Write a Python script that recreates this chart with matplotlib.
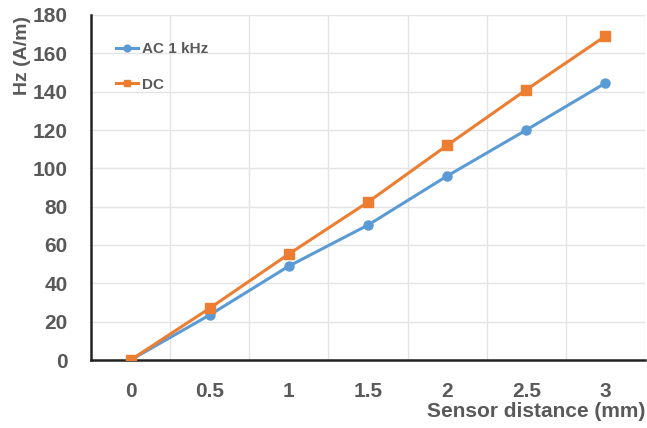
import matplotlib
matplotlib.use("Agg")
import matplotlib.pyplot as plt
from matplotlib import font_manager as fm

names = {f.name for f in fm.fontManager.ttflist}
fam = "Liberation Sans Narrow" if "Liberation Sans Narrow" in names else "Liberation Sans"
plt.rcParams['font.family'] = [fam, 'DejaVu Sans']

categories = ["0", "0.5", "1", "1.5", "2", "2.5", "3"]
ac_1khz = [0, 23.5, 49, 70.4, 96, 120, 144.5]
dc = [0, 27, 55.3, 82.4, 112, 141, 169]
yticks = [0, 20, 40, 60, 80, 100, 120, 140, 160, 180]

txt = "#595959"
fig = plt.figure(figsize=(6.47, 4.28), dpi=100)
ax = fig.add_axes([91/647, 68/428, 554/647, 345/428])
x = list(range(len(categories)))
ax.plot(x, ac_1khz, color="#5B9BD5", lw=2.2, marker="o", ms=6.5, label="AC 1 kHz", zorder=3)
ax.plot(x, dc, color="#ED7D31", lw=2.2, marker="s", ms=6.5, label="DC", zorder=4)

ax.set_xlim(-0.5, len(categories) - 0.5)
ax.set_ylim(0, 180)
ax.set_yticks(yticks)
ax.set_xticks(x)
ax.set_xticklabels(categories)
ax.set_xticks([i + 0.5 for i in x], minor=True)
ax.grid(True, axis="y", color="#E4E4E4", lw=1)
ax.grid(True, axis="x", which="minor", color="#E4E4E4", lw=1)
ax.set_axisbelow(True)
for s in ["top", "right"]:
    ax.spines[s].set_visible(False)
for s in ["left", "bottom"]:
    ax.spines[s].set_color("#222222")
    ax.spines[s].set_linewidth(1.8)
ax.tick_params(axis="both", which="both", length=0, labelsize=15, labelcolor=txt)
ax.tick_params(axis="y", pad=17)
ax.tick_params(axis="x", pad=16)
for lab in ax.get_xticklabels() + ax.get_yticklabels():
    lab.set_fontweight("bold")

ax.set_ylabel("Hz (A/m)", fontsize=14, fontweight="bold", color=txt)
ax.yaxis.set_label_coords(-0.108, 0.884)
ax.set_xlabel("Sensor distance (mm)", fontsize=15, fontweight="bold", color=txt)
ax.xaxis.set_label_coords(1.0, -0.148)
ax.xaxis.label.set_horizontalalignment("right")
ax.xaxis.label.set_verticalalignment("center")

leg = ax.legend(loc="upper left", bbox_to_anchor=(0.021, 0.962), frameon=False,
                fontsize=11, handlelength=1.4, handletextpad=0.3, labelspacing=1.42,
                labelcolor=txt, markerscale=0.75)
for t in leg.get_texts():
    t.set_fontweight("bold")

fig.savefig("out.png", dpi=100)
